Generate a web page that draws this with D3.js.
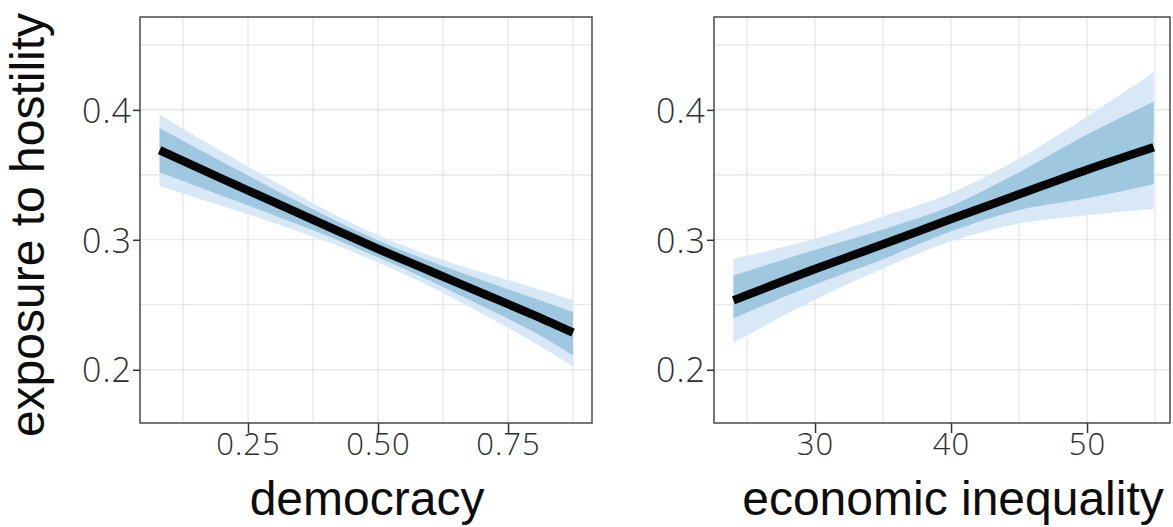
<!DOCTYPE html>
<html>
<head>
<meta charset="utf-8">
<script src="https://cdn.jsdelivr.net/npm/d3@7"></script>
<style>
  html, body { margin: 0; padding: 0; background: #fff; }
  svg { display: block; }
  .tick text { font-family: "Open Sans", "DejaVu Sans", sans-serif; font-weight: 300; fill: #2e2e2e; letter-spacing: 1px; }
  .title { font-family: "Liberation Sans", Arial, Helvetica, sans-serif; fill: #0d0d0d; }
</style>
</head>
<body>
<svg id="chart" width="1173" height="527"></svg>
<script>
// Predicted exposure to hostility, with two confidence bands, by democracy
const democracyX      = [0.08, 0.2, 0.3, 0.4, 0.5, 0.6, 0.7, 0.8, 0.875];
const democracyFit    = [0.369, 0.347, 0.329, 0.311, 0.293, 0.276, 0.259, 0.242, 0.2285];
const democracyOuterHi = [0.3965, 0.368, 0.345, 0.323, 0.3035, 0.288, 0.275, 0.263, 0.2535];
const democracyOuterLo = [0.3415, 0.326, 0.313, 0.299, 0.2825, 0.264, 0.243, 0.221, 0.2025];
const democracyInnerHi = [0.386, 0.360, 0.339, 0.3185, 0.2995, 0.2835, 0.269, 0.255, 0.2445];
const democracyInnerLo = [0.352, 0.334, 0.319, 0.3035, 0.2865, 0.2685, 0.249, 0.229, 0.211];
const democracyTicks  = [0.25, 0.50, 0.75];

// ... and by economic inequality
const inequalityX       = [24, 30, 35, 40, 45, 50, 54.9];
const inequalityFit     = [0.2534, 0.2775, 0.2965, 0.316, 0.335, 0.354, 0.3713];
const inequalityOuterHi = [0.2855, 0.301, 0.318, 0.336, 0.3625, 0.395, 0.429];
const inequalityOuterLo = [0.2206, 0.254, 0.278, 0.2988, 0.3125, 0.319, 0.3237];
const inequalityInnerHi = [0.2725, 0.2924, 0.308, 0.326, 0.352, 0.381, 0.4063];
const inequalityInnerLo = [0.2397, 0.2656, 0.285, 0.3065, 0.323, 0.332, 0.3427];
const inequalityTicks   = [30, 40, 50];

const yTicks = [0.2, 0.3, 0.4];
const yTitle = "exposure to hostility";

const svg = d3.select("#chart");
const plotTop = 17, plotBottom = 423;
const yDomain = [0.159, 0.4715];

function drawPanel(p) {
  const x = d3.scaleLinear().domain(p.xDomain).range([p.left, p.right]);
  const y = d3.scaleLinear().domain(yDomain).range([plotBottom, plotTop]);
  const g = svg.append("g");

  // grid: major at ticks, minor halfway between
  const yMinor = [0.25, 0.35, 0.45];
  const grid = g.append("g").attr("stroke", "#dfe2e7").attr("stroke-width", 1.1);
  p.ticks.concat(p.xMinor).forEach(v => {
    grid.append("line").attr("x1", x(v)).attr("x2", x(v)).attr("y1", plotTop).attr("y2", plotBottom);
  });
  yTicks.concat(yMinor).forEach(v => {
    grid.append("line").attr("x1", p.left).attr("x2", p.right).attr("y1", y(v)).attr("y2", y(v));
  });

  const rows = p.xs.map((xv, i) => ({
    x: xv, fit: p.fit[i], oh: p.outerHi[i], ol: p.outerLo[i], ih: p.innerHi[i], il: p.innerLo[i]
  }));
  const curve = d3.curveMonotoneX;

  g.append("path").datum(rows)
    .attr("fill", "#d8e8f6")
    .attr("d", d3.area().curve(curve).x(d => x(d.x)).y0(d => y(d.ol)).y1(d => y(d.oh)));
  g.append("path").datum(rows)
    .attr("fill", "#9fc7df")
    .attr("d", d3.area().curve(curve).x(d => x(d.x)).y0(d => y(d.il)).y1(d => y(d.ih)));
  g.append("path").datum(rows)
    .attr("fill", "none").attr("stroke", "#050505").attr("stroke-width", 8.5)
    .attr("d", d3.line().curve(curve).x(d => x(d.x)).y(d => y(d.fit)));

  // panel frame
  g.append("rect").attr("x", p.left).attr("y", plotTop)
    .attr("width", p.right - p.left).attr("height", plotBottom - plotTop)
    .attr("fill", "none").attr("stroke", "#4a4a4a").attr("stroke-width", 1.5);

  const xAxis = g.append("g").attr("transform", `translate(0,${plotBottom})`)
    .call(d3.axisBottom(x).tickValues(p.ticks).tickFormat(p.fmt).tickSize(10).tickPadding(0));
  xAxis.select(".domain").remove();
  xAxis.selectAll(".tick line").attr("stroke", "#333").attr("stroke-width", 1.5);
  xAxis.selectAll(".tick text").attr("font-size", 31);

  const yAxis = g.append("g").attr("transform", `translate(${p.left},0)`)
    .call(d3.axisLeft(y).tickValues(yTicks).tickFormat(d3.format(".1f")).tickSize(7).tickPadding(1));
  yAxis.select(".domain").remove();
  yAxis.selectAll(".tick line").attr("stroke", "#333").attr("stroke-width", 1.5);
  yAxis.selectAll(".tick text").attr("font-size", 34).attr("dy", "0.36em");

  g.append("text").attr("class", "title")
    .attr("x", p.titleX).attr("y", 515)
    .attr("text-anchor", "middle").attr("font-size", 48)
    .text(p.title);
}

drawPanel({
  left: 140, right: 592, xDomain: [0.0423, 0.9115],
  xs: democracyX, fit: democracyFit,
  outerHi: democracyOuterHi, outerLo: democracyOuterLo,
  innerHi: democracyInnerHi, innerLo: democracyInnerLo,
  ticks: democracyTicks, xMinor: [0.125, 0.375, 0.625, 0.875],
  fmt: d3.format(".2f"), title: "democracy", titleX: 367
});

drawPanel({
  left: 714, right: 1170, xDomain: [22.57, 56.1],
  xs: inequalityX, fit: inequalityFit,
  outerHi: inequalityOuterHi, outerLo: inequalityOuterLo,
  innerHi: inequalityInnerHi, innerLo: inequalityInnerLo,
  ticks: inequalityTicks, xMinor: [25, 35, 45, 55],
  fmt: d3.format("d"), title: "economic inequality", titleX: 953
});

svg.append("text").attr("class", "title")
  .attr("transform", "translate(44,225) rotate(-90)")
  .attr("text-anchor", "middle").attr("font-size", 48)
  .text(yTitle);
</script>
</body>
</html>
